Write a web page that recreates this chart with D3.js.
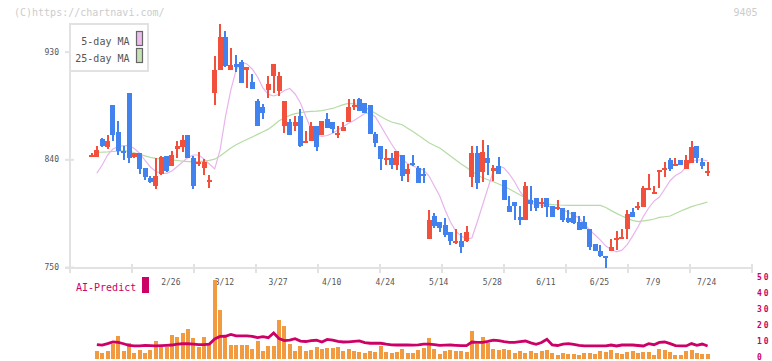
<!DOCTYPE html>
<html>
<head>
<meta charset="utf-8">
<script src="https://cdn.jsdelivr.net/npm/d3@7/dist/d3.min.js"></script>
<style>
  body { margin: 0; background: #fff; }
  svg { display: block; }
</style>
</head>
<body>
<script>
// daily candles, oldest first (index 1 .. 116)
var opens = [
  843, 842, 857, 850, 885, 863, 847, 895, 842, 845,
  833, 824, 818, 828, 843, 834, 849, 850, 860, 841,
  837, 833, 822, 895, 915, 942, 915, 920, 921, 915,
  905, 889, 884, 898, 910, 897, 868, 871, 868, 876,
  854, 855, 868, 860, 874, 871, 861, 864, 871, 884,
  890, 887, 885, 861, 851, 840, 841, 835, 844, 828,
  837, 833, 828, 773, 793, 788, 785, 779, 771, 772,
  772, 825, 845, 829, 841, 830, 834, 823, 801, 804,
  792, 789, 806, 808, 803, 808, 801, 799, 799, 791,
  796, 788, 788, 782, 769, 763, 759, 763, 773, 774,
  782, 796, 800, 800, 815, 812, 830, 832, 839, 835,
  839, 832, 837, 851, 838, 829
];
var highs = [
  845, 851, 858, 860, 885, 872, 851, 895, 845, 845,
  833, 826, 841, 843, 843, 847, 855, 860, 860, 843,
  846, 840, 827, 926, 953, 947, 933, 927, 923, 917,
  911, 890, 886, 910, 920, 913, 889, 874, 876, 882,
  864, 871, 868, 872, 879, 871, 868, 871, 890, 890,
  891, 887, 885, 863, 851, 849, 845, 847, 844, 836,
  844, 834, 833, 798, 795, 788, 791, 779, 782, 778,
  784, 851, 851, 856, 852, 835, 842, 823, 809, 804,
  801, 821, 818, 808, 808, 808, 801, 806, 799, 798,
  796, 793, 793, 782, 769, 768, 759, 773, 780, 782,
  798, 799, 804, 818, 828, 818, 831, 838, 841, 841,
  839, 844, 855, 851, 841, 838
];
var lows = [
  843, 842, 850, 849, 855, 844, 839, 837, 841, 828,
  823, 820, 815, 827, 829, 834, 841, 846, 841, 815,
  834, 827, 816, 885, 915, 917, 915, 913, 904, 900,
  899, 868, 874, 891, 895, 893, 862, 860, 864, 850,
  854, 855, 847, 860, 866, 862, 858, 864, 871, 881,
  880, 879, 861, 850, 831, 835, 832, 831, 822, 821,
  834, 820, 820, 773, 783, 779, 775, 768, 769, 762,
  771, 817, 815, 821, 827, 822, 828, 806, 796, 789,
  785, 789, 797, 797, 799, 792, 792, 798, 788, 787,
  786, 781, 782, 764, 763, 758, 749, 763, 764, 773,
  773, 792, 798, 800, 815, 812, 816, 825, 830, 835,
  835, 832, 837, 837, 832, 826
];
var closes = [
  844, 848, 851, 855, 860, 847, 845, 841, 845, 832,
  825, 821, 826, 842, 830, 844, 851, 856, 841, 818,
  838, 838, 823, 915, 942, 918, 919, 917, 904, 917,
  899, 868, 879, 903, 920, 910, 889, 860, 871, 851,
  855, 868, 850, 872, 866, 865, 862, 867, 884, 885,
  880, 879, 861, 854, 840, 841, 835, 847, 826, 832,
  836, 820, 827, 789, 784, 783, 777, 772, 772, 767,
  779, 845, 820, 846, 837, 833, 828, 806, 796, 801,
  789, 818, 803, 799, 804, 800, 792, 800, 789, 788,
  787, 781, 782, 767, 763, 759, 758, 767, 774, 775,
  794, 792, 801, 816, 816, 813, 831, 833, 832, 836,
  835, 839, 850, 841, 834, 830
];
var ma5 = [
  null, 828.5, 835.2, 843.6, 848.6, 850.7, 851.4, 851.4, 849.0, 844.9,
  839.0, 833.6, 829.8, 828.5, 828.3, 830.2, 834.0, 837.7, 841.5, 843.6,
  843.6, 840.3, 836.1, 831.9, 847.8, 875.4, 897.9, 914.7, 921.4, 919.7,
  915.5, 908.8, 899.6, 894.2, 892.9, 894.4, 897.5, 899.2, 894.6, 887.1,
  875.8, 865.0, 860.3, 859.1, 859.9, 861.7, 864.5, 867.4, 870.1, 872.4,
  875.4, 878.3, 878.7, 875.4, 867.9, 860.3, 852.8, 846.1, 839.8, 836.5,
  834.4, 832.7, 831.0, 826.0, 817.7, 809.3, 797.6, 787.6, 780.0, 775.8,
  773.3, 774.2, 787.6, 801.8, 816.0, 830.2, 834.4, 832.7, 827.7, 821.0,
  812.9, 807.2, 803.0, 801.8, 801.6, 800.9, 800.1, 799.2, 798.0, 795.5,
  793.4, 790.9, 785.9, 780.9, 776.7, 772.5, 767.5, 764.6, 762.7, 764.1,
  768.7, 775.8, 783.4, 792.2, 799.3, 805.1, 808.5, 815.2, 822.1, 826.4,
  828.9, 833.6, 838.2, 839.4, 839.4, 838.8
];
var ma25 = [
  null, 845.9, 846.0, 846.2, 846.5, 846.8, 847.0, 846.9, 845.5, 844.1,
  842.9, 841.6, 840.8, 840.2, 839.8, 839.5, 839.0, 838.4, 838.0, 838.0,
  838.0, 838.5, 839.1, 840.1, 842.8, 846.1, 849.5, 852.1, 854.5, 856.6,
  858.7, 860.8, 863.0, 865.2, 868.4, 872.2, 874.5, 876.7, 878.1, 878.9,
  879.7, 880.1, 880.2, 880.7, 881.6, 882.5, 884.1, 885.7, 886.8, 886.3,
  886.0, 883.6, 880.9, 878.5, 875.8, 873.3, 871.2, 870.0, 868.9, 865.9,
  863.2, 860.2, 856.9, 853.8, 851.5, 849.4, 846.1, 842.8, 839.4, 836.1,
  833.1, 830.1, 826.9, 824.6, 822.9, 821.2, 819.3, 817.5, 815.2, 812.7,
  810.1, 807.8, 805.5, 803.8, 803.1, 802.6, 802.2, 801.8, 801.6, 801.5,
  801.5, 801.5, 801.5, 801.5, 801.5, 801.5, 799.7, 797.1, 794.8, 792.6,
  790.6, 789.0, 787.9, 788.5, 789.1, 790.1, 791.4, 792.0, 792.6, 794.7,
  796.8, 798.6, 800.4, 801.8, 803.0, 804.3
];
// lower panel: volume bars and AI-Predict line (right axis units)
var volume = [
  null, 5.2, 3.8, 5.0, 9.4, 14.5, 5.0, 10.1, 3.8, 5.7,
  3.8, 5.7, 11.3, 7.6, 7.6, 15.1, 13.9, 16.4, 18.9, 13.2,
  7.6, 13.9, 9.4, 50.0, 30.9, 15.1, 8.8, 8.8, 8.8, 8.8,
  6.3, 11.3, 5.0, 8.2, 8.2, 24.6, 20.8, 9.4, 5.0, 8.2,
  5.2, 5.7, 7.6, 6.3, 6.9, 6.9, 7.6, 5.0, 6.3, 5.0,
  4.4, 3.8, 5.0, 4.4, 8.2, 4.4, 3.8, 4.4, 6.3, 3.8,
  3.8, 5.7, 6.9, 13.2, 6.3, 3.1, 5.0, 5.7, 5.0, 5.0,
  4.4, 17.6, 9.4, 13.9, 10.1, 6.3, 5.7, 6.3, 5.7, 3.8,
  5.0, 3.8, 5.0, 3.8, 5.0, 5.7, 3.8, 2.5, 3.8, 3.1,
  3.1, 2.5, 3.8, 3.8, 3.1, 5.0, 4.4, 5.7, 3.8, 3.1,
  4.4, 5.0, 3.8, 4.4, 4.4, 2.5, 6.3, 5.7, 4.4, 2.5,
  2.5, 5.0, 5.7, 3.8, 3.1, 3.1
];
var aiPredict = [
  null, 9.1, 8.7, 9.7, 10.8, 10.4, 9.6, 8.5, 8.2, 8.2,
  8.6, 8.4, 8.2, 8.4, 8.6, 8.8, 9.4, 9.6, 9.6, 9.4,
  9.1, 9.1, 9.4, 12.6, 14.2, 14.3, 15.4, 14.5, 14.5, 14.5,
  14.2, 13.5, 14.0, 13.4, 16.4, 12.9, 11.6, 11.9, 12.8, 11.3,
  11.0, 11.6, 11.8, 10.7, 12.3, 11.9, 11.1, 10.7, 10.8, 11.1,
  11.4, 10.3, 9.9, 9.9, 9.9, 9.3, 8.9, 8.8, 8.8, 8.8,
  8.7, 8.9, 9.4, 9.4, 9.1, 8.6, 8.7, 8.8, 8.6, 8.4,
  8.4, 10.7, 10.4, 10.4, 11.1, 11.9, 11.6, 11.0, 10.5, 10.4,
  10.9, 11.3, 10.1, 9.2, 10.4, 12.4, 8.8, 8.5, 9.4, 9.7,
  9.2, 8.6, 8.2, 8.2, 8.2, 8.2, 8.2, 8.8, 8.2, 8.8,
  8.8, 8.8, 8.5, 8.2, 9.6, 9.0, 10.4, 10.7, 9.7, 8.4,
  8.2, 8.2, 9.7, 8.6, 9.4, 8.2
];
var tickDays = [16, 26, 36, 46, 56, 66, 76, 86, 96, 106, 116];
var tickLabels = ["2/26", "3/12", "3/27", "4/10", "4/24", "5/14", "5/28", "6/11", "6/25", "7/9", "7/24"];
var priceTicks = [750, 840, 930];
var aiTicks = [0, 10, 20, 30, 40, 50];

var w = 772;
var h = 361;
var upColor = "#f0503c";
var downColor = "#4282ee";
var axisColor = "#e2e2e2";

var svg = d3.select("body")
  .append("svg")
  .attr("width", w)
  .attr("height", h)
  .style("font-family", "'DejaVu Sans Mono', monospace");

var xScale = d3.scaleLinear()
  .domain([1, closes.length])
  .range([91.5, 707.6]);

var yScale = d3.scaleLinear()
  .domain([750, 930])
  .range([267, 51.6]);

var vScale = d3.scaleLinear()
  .domain([0, 50])
  .range([359, 279.5]);

// fixed grid of the date axis (not tied to the candles)
var gridScale = d3.scaleLinear().domain([0, 11]).range([70, 752]);

/* ===== AXES ===== */

svg.append("line")
  .attr("x1", 70).attr("x2", 70)
  .attr("y1", 24).attr("y2", 273)
  .attr("stroke", axisColor).attr("stroke-width", 2);

svg.append("line")
  .attr("x1", 65).attr("x2", 752)
  .attr("y1", 268).attr("y2", 268)
  .attr("stroke", axisColor).attr("stroke-width", 2);

svg.append("g")
  .selectAll("line")
  .data(d3.range(1, 12))
  .enter()
  .append("line")
  .attr("x1", function (d) { return gridScale(d); })
  .attr("x2", function (d) { return gridScale(d); })
  .attr("y1", 264).attr("y2", 273)
  .attr("stroke", axisColor).attr("stroke-width", 2);

var yAxis = d3.axisLeft()
  .scale(yScale)
  .tickValues(priceTicks)
  .tickSize(5)
  .tickPadding(6);

var yAxisG = svg.append("g")
  .attr("transform", "translate(70,0)")
  .call(yAxis);
yAxisG.select(".domain").remove();
yAxisG.selectAll(".tick line")
  .attr("x1", 4).attr("x2", -5)
  .attr("stroke", axisColor).attr("stroke-width", 2);
yAxisG.selectAll(".tick text")
  .attr("font-family", "'DejaVu Sans Mono', monospace")
  .attr("font-size", "8px")
  .attr("fill", "#555");

svg.append("g")
  .selectAll("text")
  .data(tickDays)
  .enter()
  .append("text")
  .text(function (d, i) { return tickLabels[i]; })
  .attr("x", function (d) { return xScale(d) - 1; })
  .attr("y", 285)
  .attr("text-anchor", "middle")
  .attr("font-size", "8px")
  .attr("fill", "#555");

svg.append("g")
  .selectAll("text")
  .data(aiTicks)
  .enter()
  .append("text")
  .text(function (d) { return d; })
  .attr("x", 757)
  .attr("y", function (d) { return vScale(d) + 0.5; })
  .attr("font-size", "8px")
  .attr("letter-spacing", "2px")
  .attr("font-weight", "bold")
  .attr("fill", "#cc0066");

/* ===== MOVING AVERAGES ===== */

var maLine = d3.line()
  .defined(function (d) { return d != null; })
  .x(function (d, i) { return xScale(i + 1); })
  .y(function (d) { return yScale(d); });

svg.append("path")
  .datum(ma25)
  .attr("d", maLine)
  .attr("fill", "none")
  .attr("stroke", "#b4dca4")
  .attr("stroke-width", 1.2);

svg.append("path")
  .datum(ma5)
  .attr("d", maLine)
  .attr("fill", "none")
  .attr("stroke", "#e8b4ec")
  .attr("stroke-width", 1.2);

/* ===== CANDLES ===== */

var candle = svg.append("g")
  .attr("shape-rendering", "crispEdges")
  .selectAll("g")
  .data(closes)
  .enter()
  .append("g");

function candleColor(d, i) {
  return d >= opens[i] ? upColor : downColor;
}

candle.append("rect")
  .attr("x", function (d, i) { return xScale(i + 1) - 1; })
  .attr("width", 2)
  .attr("y", function (d, i) { return yScale(highs[i]); })
  .attr("height", function (d, i) { return yScale(lows[i]) - yScale(highs[i]); })
  .attr("fill", candleColor);

candle.append("rect")
  .attr("x", function (d, i) { return xScale(i + 1) - 2.5; })
  .attr("width", 5)
  .attr("y", function (d, i) { return yScale(Math.max(d, opens[i])); })
  .attr("height", function (d, i) {
    return Math.max(2, Math.abs(yScale(d) - yScale(opens[i])));
  })
  .attr("fill", candleColor);

/* ===== VOLUME + AI-PREDICT ===== */

svg.append("g")
  .attr("shape-rendering", "crispEdges")
  .selectAll("rect")
  .data(volume)
  .enter()
  .append("rect")
  .attr("x", function (d, i) { return xScale(i + 1) - 2; })
  .attr("width", 4)
  .attr("y", function (d) { return vScale(d || 0); })
  .attr("height", function (d) { return vScale(0) - vScale(d || 0); })
  .attr("fill", "#f19a40");

var aiLine = d3.line()
  .defined(function (d) { return d != null; })
  .x(function (d, i) { return xScale(i + 1); })
  .y(function (d) { return vScale(d); });

svg.append("path")
  .datum(aiPredict)
  .attr("d", aiLine)
  .attr("fill", "none")
  .attr("stroke", "#cc0066")
  .attr("stroke-width", 2.8);

/* ===== LEGEND + LABELS ===== */

svg.append("rect")
  .attr("x", 70).attr("y", 24)
  .attr("width", 78).attr("height", 47)
  .attr("fill", "#fff")
  .attr("stroke", axisColor).attr("stroke-width", 2);

var legend = [["5-day MA", "#ecbcec", 44.5, 31.5], ["25-day MA", "#c4e2b4", 61.5, 48.5]];
legend.forEach(function (l) {
  svg.append("text")
    .text(l[0])
    .attr("x", 129.5).attr("y", l[2])
    .attr("text-anchor", "end")
    .attr("font-size", "10px")
    .attr("fill", "#555");
  svg.append("rect")
    .attr("x", 136.5).attr("y", l[3])
    .attr("width", 6).attr("height", 14)
    .attr("fill", l[1])
    .attr("stroke", "#666").attr("stroke-width", 1.2);
});

svg.append("text")
  .text("(C)https://chartnavi.com/")
  .attr("x", 14).attr("y", 15.5)
  .attr("font-size", "10px")
  .attr("fill", "#cccccc");

svg.append("text")
  .text("9405")
  .attr("x", 757.5).attr("y", 15.5)
  .attr("text-anchor", "end")
  .attr("font-size", "10px")
  .attr("fill", "#cccccc");

svg.append("text")
  .text("AI-Predict")
  .attr("x", 76).attr("y", 290.5)
  .attr("font-size", "10px")
  .attr("fill", "#cc0066");

svg.append("rect")
  .attr("x", 142).attr("y", 277)
  .attr("width", 7).attr("height", 16)
  .attr("fill", "#cc0066");
</script>
</body>
</html>
